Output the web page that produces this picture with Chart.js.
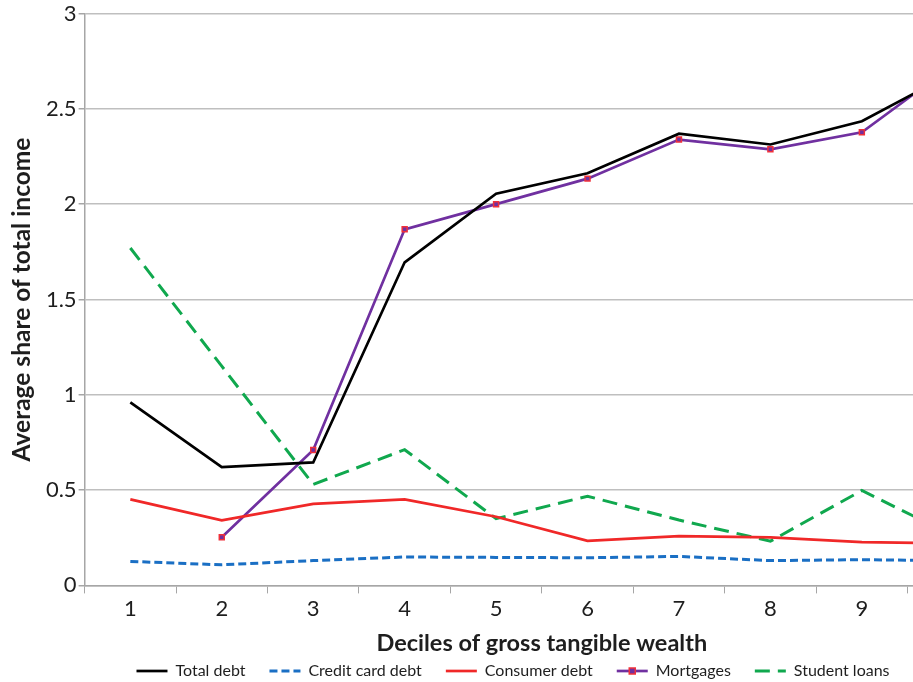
<!DOCTYPE html>
<html lang="en">
<head>
    <meta charset="UTF-8">
    <title>Debt by decile of gross tangible wealth</title>
    <script src="https://cdn.jsdelivr.net/npm/chart.js"></script>
    <style>
        html, body { margin: 0; padding: 0; background: #fff; overflow: hidden; }
        /* the original figure is larger than the page: decile 10 falls off the right edge */
        #wrap { width: 1026px; height: 689px; position: relative; }
    </style>
</head>
<body>
    <div id="wrap"><canvas id="grafico"></canvas></div>

    <script>
        const deciles = ['1', '2', '3', '4', '5', '6', '7', '8', '9', '10'];
        const yTicks = [0, 0.5, 1, 1.5, 2, 2.5, 3];

        const totalDebt = [0.96, 0.62, 0.645, 1.695, 2.055, 2.162, 2.37, 2.313, 2.435, 2.69];
        const creditCardDebt = [0.126, 0.108, 0.13, 0.149, 0.147, 0.145, 0.152, 0.13, 0.135, 0.13];
        const consumerDebt = [0.451, 0.341, 0.428, 0.451, 0.36, 0.234, 0.258, 0.252, 0.227, 0.22];
        const mortgages = [null, 0.253, 0.71, 1.868, 2.0, 2.134, 2.339, 2.288, 2.377, 2.73];
        const studentLoans = [1.77, 1.15, 0.53, 0.712, 0.35, 0.468, 0.343, 0.232, 0.498, 0.26];

        const fonte = "Lato, 'Open Sans', sans-serif";
        const texto = '#1e1e1e';
        const larguraLinhaLegenda = 31;

        // legend sits centred on the full (uncropped) figure, a bit right of the plot centre
        const moverLegenda = {
            id: 'moverLegenda',
            afterLayout(chart) {
                chart.legend.left += 12;
                chart.legend.right += 12;
            }
        };

        // draws the little square on the Mortgages legend line
        const marcaLegenda = {
            id: 'marcaLegenda',
            afterDraw(chart) {
                const caixas = chart.legend.legendHitBoxes;
                if (!caixas || !caixas[3]) return;
                const c = caixas[3];
                const ctx = chart.ctx;
                const x = c.left + larguraLinhaLegenda / 2;
                const y = c.top + c.height / 2;
                ctx.save();
                ctx.fillStyle = '#7030A0';
                ctx.strokeStyle = '#F0303A';
                ctx.lineWidth = 1.5;
                ctx.fillRect(x - 3, y - 3, 6, 6);
                ctx.strokeRect(x - 3, y - 3, 6, 6);
                ctx.restore();
            }
        };

        new Chart(document.getElementById('grafico'), {
            type: 'line',
            data: {
                labels: deciles,
                datasets: [
                    {
                        label: 'Total debt',
                        data: totalDebt,
                        borderColor: '#000000',
                        backgroundColor: '#000000',
                        borderWidth: 2.7,
                        pointRadius: 0
                    },
                    {
                        label: 'Credit card debt',
                        data: creditCardDebt,
                        borderColor: '#1A6FC4',
                        backgroundColor: '#1A6FC4',
                        borderWidth: 3,
                        borderDash: [8, 4],
                        pointRadius: 0
                    },
                    {
                        label: 'Consumer debt',
                        data: consumerDebt,
                        borderColor: '#F02828',
                        backgroundColor: '#F02828',
                        borderWidth: 2.7,
                        pointRadius: 0
                    },
                    {
                        label: 'Mortgages',
                        data: mortgages,
                        borderColor: '#7030A0',
                        backgroundColor: '#7030A0',
                        borderWidth: 2.7,
                        pointStyle: 'rect',
                        pointRadius: 3.5,
                        pointBorderColor: '#F0303A',
                        pointBackgroundColor: '#7030A0',
                        pointBorderWidth: 1.5
                    },
                    {
                        label: 'Student loans',
                        data: studentLoans,
                        borderColor: '#10A84E',
                        backgroundColor: '#10A84E',
                        borderWidth: 3,
                        borderDash: [15, 8],
                        pointRadius: 0
                    }
                ]
            },
            options: {
                responsive: true,
                maintainAspectRatio: false,
                animation: false,
                layout: { padding: { left: 3, right: 27, top: 0, bottom: 0 } },
                plugins: {
                    tooltip: { enabled: false },
                    legend: {
                        position: 'bottom',
                        labels: {
                            color: texto,
                            font: { family: fonte, size: 16 },
                            usePointStyle: true,
                            pointStyleWidth: larguraLinhaLegenda,
                            boxHeight: 16,
                            padding: 24,
                            generateLabels(chart) {
                                return chart.data.datasets.map((ds, i) => ({
                                    text: ds.label,
                                    datasetIndex: i,
                                    fillStyle: ds.borderColor,
                                    strokeStyle: ds.borderColor,
                                    fontColor: texto,
                                    lineWidth: ds.borderWidth,
                                    lineDash: ds.borderDash || [],
                                    lineCap: 'butt',
                                    pointStyle: 'line',
                                    hidden: false
                                }));
                            }
                        }
                    }
                },
                scales: {
                    x: {
                        offset: true,
                        grid: {
                            offset: true,
                            drawOnChartArea: false,
                            drawTicks: true,
                            tickLength: 8,
                            tickColor: '#A6A6A6'
                        },
                        border: { color: '#A6A6A6', width: 1.5 },
                        ticks: {
                            color: texto,
                            font: { family: fonte, size: 22 },
                            padding: 2,
                            maxRotation: 0,
                            autoSkip: false
                        },
                        title: {
                            display: true,
                            text: 'Deciles of gross tangible wealth',
                            color: texto,
                            font: { family: fonte, size: 23.5, weight: 'bold' },
                            padding: { top: 6, bottom: -19 }
                        }
                    },
                    y: {
                        min: 0,
                        max: 3,
                        afterBuildTicks(axis) {
                            axis.ticks = yTicks.map(v => ({ value: v }));
                        },
                        grid: {
                            color: '#BFBFBF',
                            lineWidth: 1.5,
                            tickLength: 6,
                            tickColor: '#A6A6A6'
                        },
                        border: { color: '#A6A6A6', width: 1.5 },
                        ticks: {
                            color: texto,
                            font: { family: fonte, size: 22, lineHeight: 1.05 },
                            padding: 2,
                            callback: v => String(v)
                        },
                        title: {
                            display: true,
                            text: 'Average share of total income',
                            color: texto,
                            font: { family: fonte, size: 24.5, weight: 'bold' },
                            padding: { top: 4.5, bottom: 7 }
                        }
                    }
                }
            },
            plugins: [moverLegenda, marcaLegenda]
        });
    </script>
</body>
</html>
